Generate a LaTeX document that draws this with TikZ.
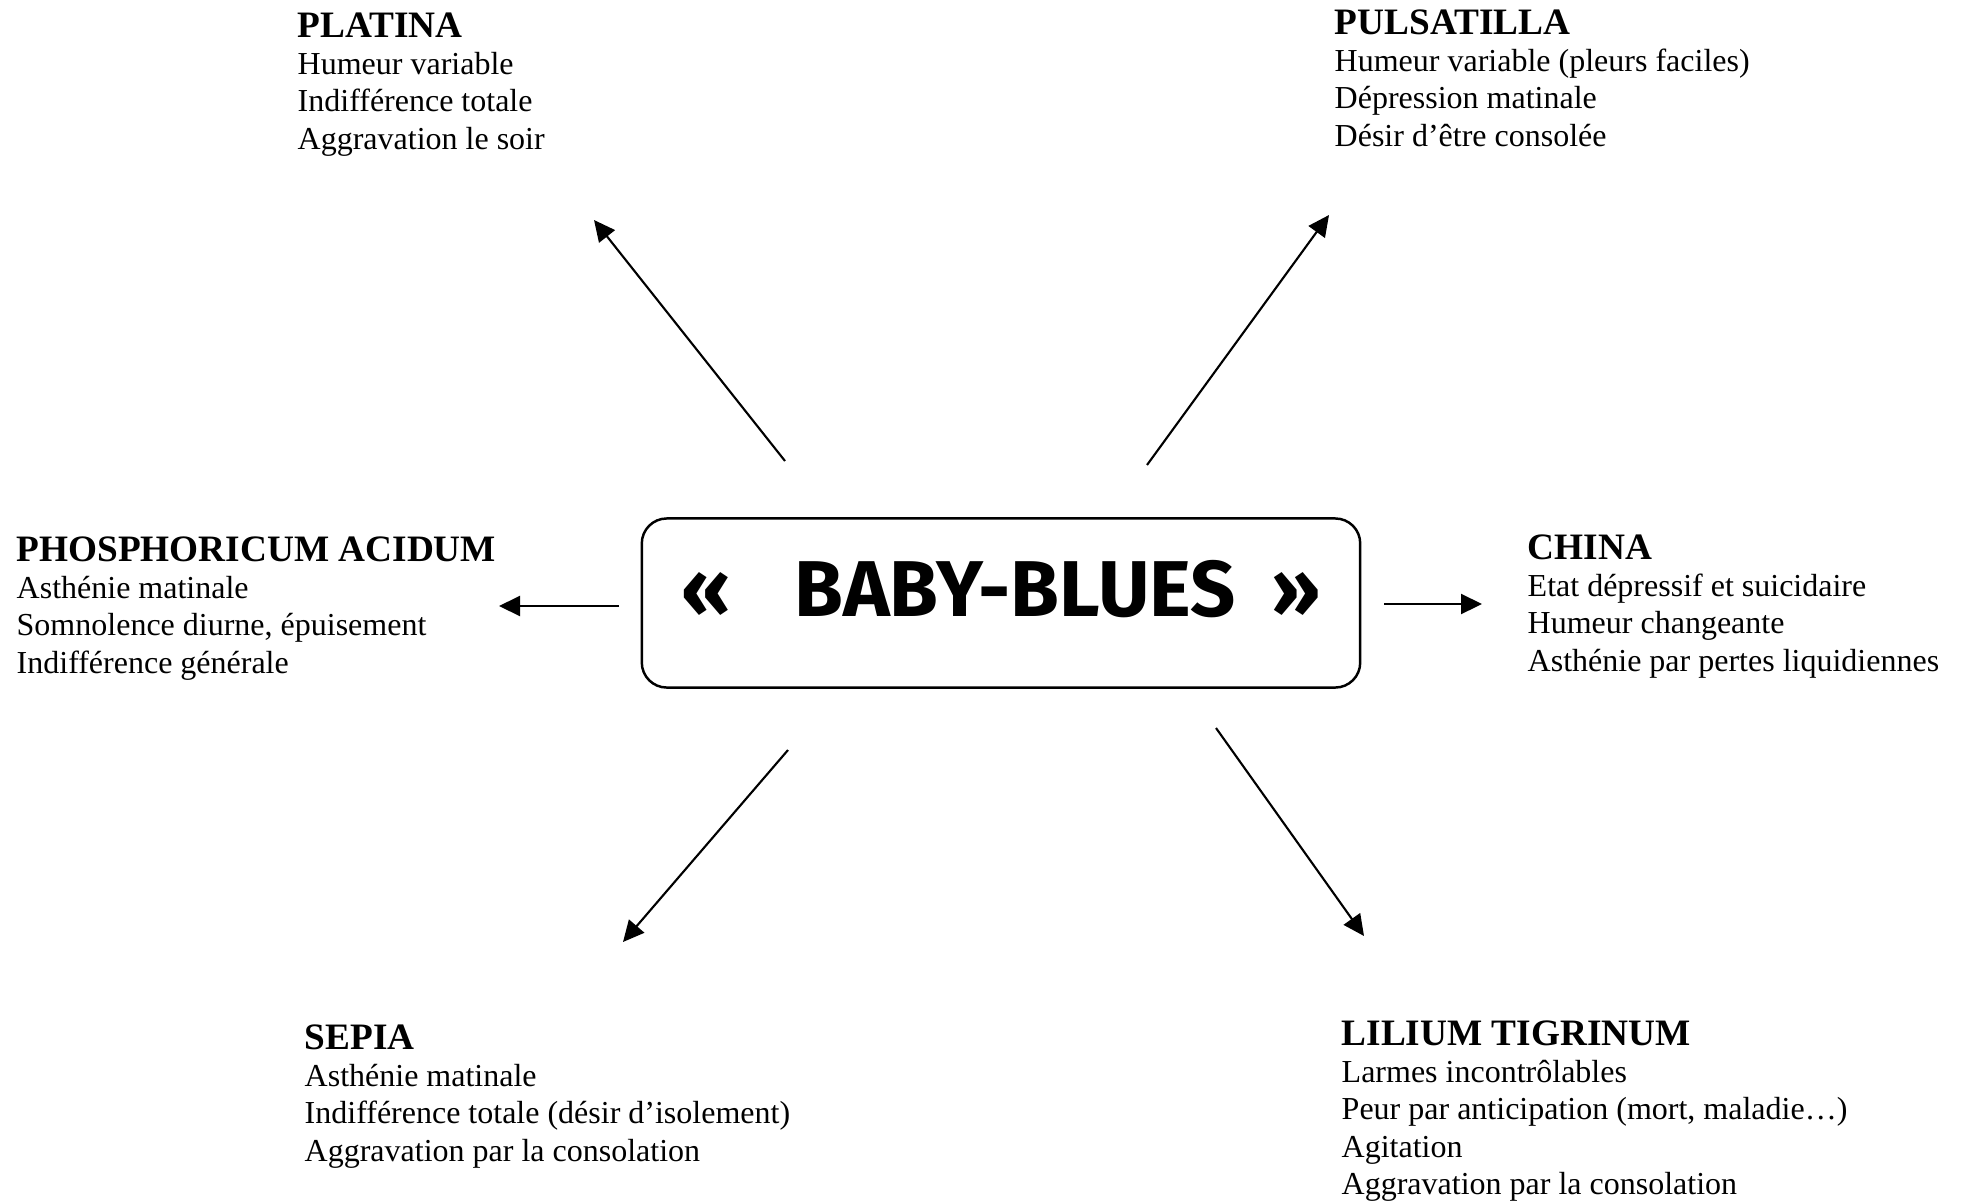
\documentclass[tikz,border=0pt]{standalone}
\usepackage{fontspec}
\setmainfont{Liberation Serif}
\newfontfamily\bluesfont{Fira Sans}
\usetikzlibrary{arrows.meta}
\newcommand{\nomremede}[1]{{\bfseries\fontsize{10.6}{10.6}\selectfont #1}}

\begin{document}
\begin{tikzpicture}
	[x=0.01cm, y=-0.01cm,
	remede/.style={anchor=north west, align=left, inner sep=0pt, font=\fontsize{9.1}{10.6}\selectfont},
	cadre/.style={draw, line width=0.7pt, rounded corners=0.25cm, minimum width=7.18cm, minimum height=1.69cm, text height=0.6cm, text depth=0.34cm},
	fleche/.style={line width=0.6pt, -{Triangle[length=0.21cm, width=0.2cm]}}]
	\useasboundingbox (0,0) rectangle (1964,1203);
	\node [cadre, font=\bluesfont\bfseries\fontsize{22.5}{22.5}\selectfont] (blues) at (1001,603) {«\hspace{18pt}BABY-BLUES\hspace{10pt}»};
	% les remedes
	\node [remede] (platina) at (297,12) {\nomremede{PLATINA}\\Humeur variable\\Indifférence totale\\Aggravation le soir};
	\node [remede] (pulsatilla) at (1334,9) {\nomremede{PULSATILLA}\\Humeur variable (pleurs faciles)\\Dépression matinale\\Désir d’être consolée};
	\node [remede] (phospho) at (16,536) {\nomremede{PHOSPHORICUM ACIDUM}\\Asthénie matinale\\Somnolence diurne, épuisement\\Indifférence générale};
	\node [remede] (china) at (1527,534) {\nomremede{CHINA}\\Etat dépressif et suicidaire\\Humeur changeante\\Asthénie par pertes liquidiennes};
	\node [remede] (sepia) at (304,1024) {\nomremede{SEPIA}\\Asthénie matinale\\Indifférence totale (désir d’isolement)\\Aggravation par la consolation};
	\node [remede] (lilium) at (1341,1020) {\nomremede{LILIUM TIGRINUM}\\Larmes incontrôlables\\Peur par anticipation (mort, maladie…)\\Agitation\\Aggravation par la consolation};
	% les fleches
	\coordinate (pl-d) at (785,461);	\coordinate (pl-a) at (594,220);
	\coordinate (pu-d) at (1147,465);	\coordinate (pu-a) at (1329,215);
	\coordinate (ph-d) at (619,606);	\coordinate (ph-a) at (499,606);
	\coordinate (ch-d) at (1384,604);	\coordinate (ch-a) at (1482,604);
	\coordinate (se-d) at (788,750);	\coordinate (se-a) at (623,942);
	\coordinate (li-d) at (1216,728);	\coordinate (li-a) at (1364,936);
	\draw [fleche] (pl-d) -- (pl-a);
	\draw [fleche] (pu-d) -- (pu-a);
	\draw [fleche] (ph-d) -- (ph-a);
	\draw [fleche] (ch-d) -- (ch-a);
	\draw [fleche] (se-d) -- (se-a);
	\draw [fleche] (li-d) -- (li-a);
\end{tikzpicture}
\end{document}
